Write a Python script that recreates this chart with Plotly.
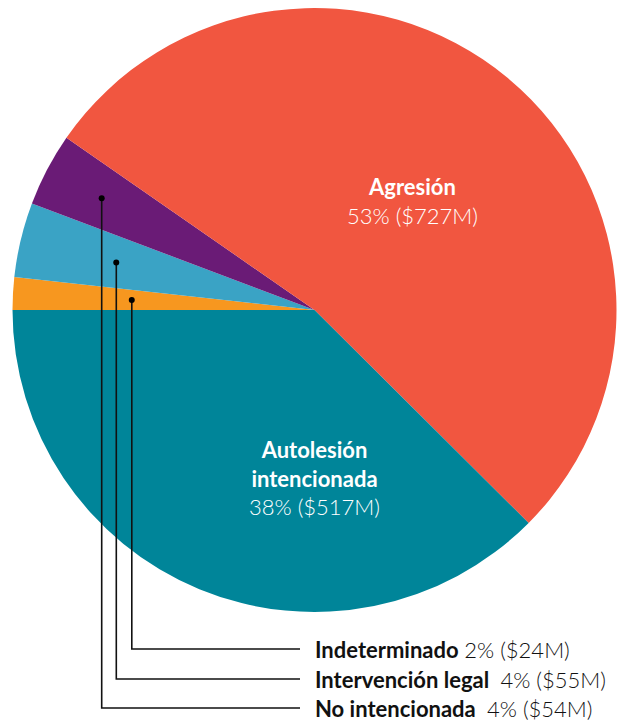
import math
import plotly.graph_objects as go

# Cost of firearm injuries by intent (millions of USD)
categories = ["Indeterminado", "Intervención legal", "No intencionada", "Agresión", "Autolesión intencionada"]
values = [24, 55, 54, 727, 517]
percents = [2, 4, 4, 53, 38]
colors = ["#F7971F", "#3AA3C5", "#6A1B76", "#F15640", "#008599"]

# small slices labelled below the pie via leader lines
callout_names = ["Indeterminado", "Intervención legal", "No intencionada"]
callout_gap = [" ", "&nbsp; ", "&nbsp; "]
callout_radius = [0.606, 0.675, 0.796]      # fraction of pie radius where the dot sits
callout_row_y = [649, 679, 708]             # pixel row of each callout label

W, H = 624, 721
CX, CY, R = 314.5, 310, 302
START_DEG = 270  # first slice starts at 9 o'clock, going clockwise

fig = go.Figure()
fig.add_trace(go.Pie(
    labels=categories, values=values, sort=False, direction="clockwise",
    rotation=START_DEG, marker=dict(colors=colors, line=dict(width=0)),
    textinfo="none", hoverinfo="label+value", showlegend=False,
    domain=dict(x=[(CX - R) / W, (CX + R) / W], y=[1 - (CY + R) / H, 1 - (CY - R) / H]),
))

# invisible pixel-based axes for the callout lines and labels
fig.update_xaxes(range=[0, W], visible=False, fixedrange=True)
fig.update_yaxes(range=[H, 0], visible=False, fixedrange=True)

total = sum(values)
font_family = "Lato"
shapes = []
annotations = []

cum = 0
mid_angle = {}
for name, v in zip(categories, values):
    mid_angle[name] = (cum + v / 2) / total * 2 * math.pi
    cum += v

label_x_end = 300
for name, gap, rf, ry in zip(callout_names, callout_gap, callout_radius, callout_row_y):
    i = categories.index(name)
    a = mid_angle[name]
    dx = CX - R * rf * math.cos(a)
    dy = CY - R * rf * math.sin(a)
    shapes.append(dict(type="path", xref="x", yref="y",
                       path=f"M {dx:.1f} {dy:.1f} L {dx:.1f} {ry} L {label_x_end} {ry}",
                       line=dict(color="#111111", width=1.6)))
    shapes.append(dict(type="circle", xref="x", yref="y",
                       x0=dx - 3, x1=dx + 3, y0=dy - 3, y1=dy + 3,
                       fillcolor="#000000", line=dict(width=0)))
    annotations.append(dict(
        x=label_x_end + 13, y=ry, xref="x", yref="y", xanchor="left", yanchor="middle",
        showarrow=False,
        text=f"<b>{name}</b>{gap}<span style='font-weight:300'>{percents[i]}% (${values[i]}M)</span>",
        font=dict(family=font_family, size=22, color="#111111"),
    ))

# labels inside the two large slices
annotations.append(dict(
    x=412, y=201, xref="x", yref="y", showarrow=False, align="center",
    text=f"<b>Agresión</b><br><span style='font-weight:300'>{percents[3]}% (${values[3]}M)</span>",
    font=dict(family=font_family, size=22, color="#FFFFFF"),
))
annotations.append(dict(
    x=314, y=478, xref="x", yref="y", showarrow=False, align="center",
    text=f"<b>Autolesión<br>intencionada</b><br><span style='font-weight:300'>{percents[4]}% (${values[4]}M)</span>",
    font=dict(family=font_family, size=22, color="#FFFFFF"),
))

fig.update_layout(
    width=W, height=H, margin=dict(l=0, r=0, t=0, b=0),
    paper_bgcolor="#FFFFFF", plot_bgcolor="rgba(0,0,0,0)",
    shapes=shapes, annotations=annotations,
)

fig.write_html("out.html")
